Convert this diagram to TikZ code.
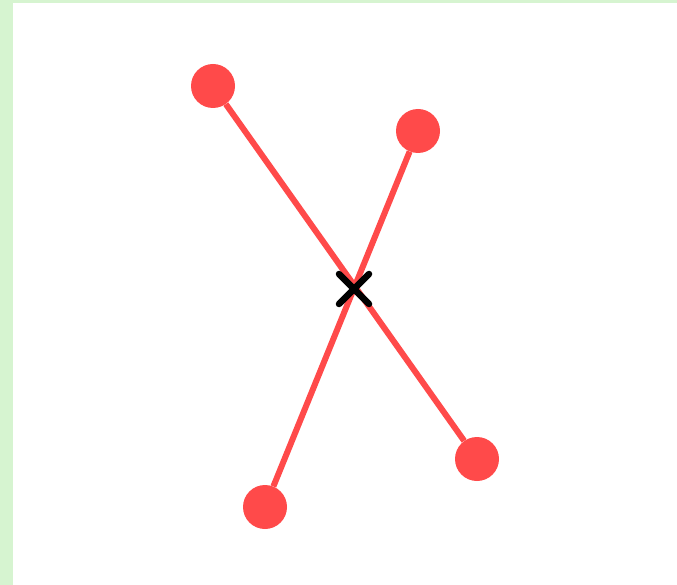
\documentclass[tikz,border=0pt]{standalone}
\definecolor{bggreen}{HTML}{D6F4D0}
\definecolor{dotred}{HTML}{FF4A4A}
\begin{document}
\begin{tikzpicture}[x=1pt,y=-1pt,
  seg/.style={draw=dotred,line width=6pt},
  dot/.style={circle,fill=dotred,minimum size=44pt,inner sep=0pt},
  crossline/.style={draw=black,line width=6.5pt,line cap=round}]
\fill[bggreen] (0,0) rectangle (677,585);
\fill[white] (13,3) rectangle (677,585);
\useasboundingbox (0,0) rectangle (677,585);
\node[dot] (a) at (213,86) {};
\node[dot] (b) at (477,459) {};
\node[dot] (c) at (418,131) {};
\node[dot] (d) at (265,507) {};
\draw[seg] (a) -- (b);
\draw[seg] (c) -- (d);
\coordinate (x) at (354,289);
\draw[crossline] ([shift={(-15,-15)}]x) -- ([shift={(15,15)}]x);
\draw[crossline] ([shift={(-15,15)}]x) -- ([shift={(15,-15)}]x);
\end{tikzpicture}
\end{document}
